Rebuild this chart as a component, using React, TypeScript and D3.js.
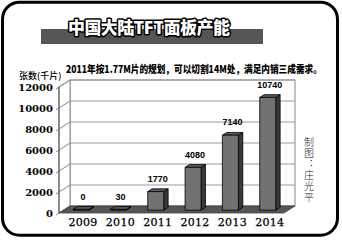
import React, { useLayoutEffect, useRef, useState } from "react";
import * as d3 from "d3";

const years = ["2009", "2010", "2011", "2012", "2013", "2014"];
const values = [0, 30, 1770, 4080, 7140, 10740];
const valueLabels = ["0", "30", "1770", "4080", "7140", "10740"];
const yTicks = [0, 2000, 4000, 6000, 8000, 10000, 12000];
const title = "中国大陆TFT面板产能";
const subtitle = "2011年按1.77M片的规划，可以切割14M处，满足内销三成需求。";
const yLabel = "张数(千片)";
const credit = "制图：庄光平";

const W = 342;
const H = 240;
const DX = 11;
const DY = -7;

export default function App() {
  const subRef = useRef<SVGTextElement>(null);
  const [subScale, setSubScale] = useState(0.78);
  useLayoutEffect(() => {
    if (subRef.current) {
      const len = subRef.current.getComputedTextLength();
      if (len > 0) setSubScale(256 / len);
    }
  }, []);

  const y = d3.scaleLinear().domain([0, 12000]).range([213, 87]);
  const x = d3.scalePoint<string>().domain(years).range([58, 282]).padding(0.5);
  const frontX = 59;
  const floorRight = 284;
  const backRight = 295;
  const barW = 16;
  const t0 = 0.4;
  const t1 = 0.8;
  const fdx = DX * t0, fdy = DY * t0;
  const sdx = DX * (t1 - t0), sdy = DY * (t1 - t0);
  const serif = "'DejaVu Serif', serif";
  const sans = "'Liberation Sans', Arial, sans-serif";
  const cjk = "'Noto Sans CJK SC', sans-serif";

  return (
    <svg width={W} height={H} style={{ position: "absolute", left: 0, top: 0, background: "#fff" }}>
      <rect x={2.5} y={2.2} width={335} height={233} rx={17} fill="#fff" stroke="#000" strokeWidth={3} />
      {/* title */}
      <rect x={41} y={29} width={222} height={15} fill="#555" />
      <text x={149} y={34} textAnchor="middle" fontFamily={cjk} fontWeight={900} fontSize={17}
        fill="#fff" stroke="#000" strokeWidth={3} paintOrder="stroke" strokeLinejoin="round" textLength={162}>
        {title}
      </text>
      <g transform={`translate(66,73) scale(${subScale},1)`}>
        <text ref={subRef} x={0} y={0} fontFamily={cjk} fontWeight={900} fontSize={10.5} fill="#000">{subtitle}</text>
      </g>
      <text x={19} y={79} fontFamily={cjk} fontSize={9} fill="#000" fontWeight={500}>{yLabel}</text>

      {/* back wall */}
      <rect x={frontX + DX} y={y(12000) + DY} width={backRight - frontX - DX} height={y(0) - y(12000)}
        fill="#fff" stroke="#888" strokeWidth={1} />
      {yTicks.map((v) => (
        <line key={"bg" + v} x1={frontX + DX} x2={backRight} y1={y(v) + DY} y2={y(v) + DY} stroke="#999" strokeWidth={1} />
      ))}
      {/* left wall */}
      <polygon points={`${frontX},${y(0)} ${frontX},${y(12000)} ${frontX + DX},${y(12000) + DY} ${frontX + DX},${y(0) + DY}`}
        fill="#fff" stroke="#888" strokeWidth={1} />
      {yTicks.map((v) => (
        <line key={"lg" + v} x1={frontX - 3} y1={y(v) + 2} x2={frontX + DX} y2={y(v) + DY} stroke="#888" strokeWidth={1} />
      ))}
      <line x1={frontX} x2={frontX} y1={y(0)} y2={y(12000)} stroke="#666" strokeWidth={1.2} />
      {/* floor */}
      <polygon points={`${frontX},${y(0)} ${floorRight},${y(0)} ${backRight},${y(0) + DY} ${frontX + DX},${y(0) + DY}`}
        fill="#555" stroke="#444" strokeWidth={0.8} />
      {yTicks.map((v) => (
        <text key={"yt" + v} x={53} y={y(v) + 4} textAnchor="end" fontFamily={serif} fontWeight={700}
          fontSize={10} fill="#000">{v}</text>
      ))}

      {/* bars */}
      {years.map((yr, i) => {
        const cx = (x(yr) as number) + fdx;
        const bx = cx - barW / 2;
        const by0 = y(0) + fdy;
        const by1 = y(values[i]) + fdy;
        const h = Math.max(by0 - by1, 0.8);
        const top = by0 - h;
        return (
          <g key={yr} stroke="#000" strokeWidth={0.8} strokeLinejoin="round">
            <polygon points={`${bx + barW},${top} ${bx + barW + sdx},${top + sdy} ${bx + barW + sdx},${by0 + sdy} ${bx + barW},${by0}`} fill="#383838" />
            <polygon points={`${bx},${top} ${bx + sdx},${top + sdy} ${bx + barW + sdx},${top + sdy} ${bx + barW},${top}`} fill="#5a5a5a" />
            <rect x={bx} y={top} width={barW} height={h} fill="#727272" />
          </g>
        );
      })}
      {years.map((yr, i) => {
        const cx = (x(yr) as number) + fdx + 2;
        return (
          <text key={"vl" + yr} x={cx} y={y(values[i]) + fdy + sdy - 7} textAnchor="middle"
            fontFamily={sans} fontWeight={700} fontSize={9} fill="#000">{valueLabels[i]}</text>
        );
      })}
      {years.map((yr) => (
        <text key={"xl" + yr} x={(x(yr) as number) + fdx + 2} y={226} textAnchor="middle" fontFamily={serif}
          fontSize={11} fill="#000" stroke="#000" strokeWidth={0.25} letterSpacing={0.3}>{yr}</text>
      ))}
      <text x={309} y={137} fontFamily={cjk} fontSize={10} fontWeight={300} fill="#222" letterSpacing={1}
        style={{ writingMode: "vertical-rl", textOrientation: "upright" } as React.CSSProperties}>{credit}</text>
    </svg>
  );
}
